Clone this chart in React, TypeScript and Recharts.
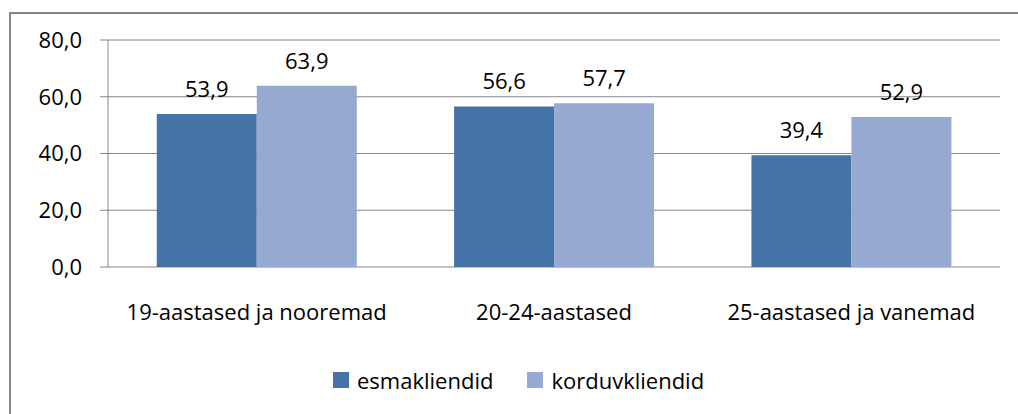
import React from 'react';
import { BarChart, Bar, XAxis, YAxis, CartesianGrid, LabelList, Legend } from 'recharts';

const categories = ['19-aastased ja nooremad', '20-24-aastased', '25-aastased ja vanemad'];
const esmakliendid = [53.9, 56.6, 39.4];
const korduvkliendid = [63.9, 57.7, 52.9];
const yTicks = [0, 20, 40, 60, 80];
const seriesNames = ['esmakliendid', 'korduvkliendid'];
const seriesColors = ['#4572A7', '#95A9D1'];

const data = categories.map((c, i) => ({ name: c, esmakliendid: esmakliendid[i], korduvkliendid: korduvkliendid[i] }));

const FONT = '"Open Sans", sans-serif';
const FS = 22;
const fmt = (v: number) => v.toFixed(1).replace('.', ',');

const LegendContent = () => (
  <div style={{ display: 'flex', alignItems: 'center', fontFamily: FONT, fontSize: FS, color: '#000' }}>
    {seriesNames.map((n, i) => (
      <div key={n} style={{ display: 'flex', alignItems: 'center', marginRight: i === 0 ? 34 : 0 }}>
        <span style={{ display: 'inline-block', width: 16, height: 16, background: seriesColors[i], marginRight: 8 }} />
        <span>{n}</span>
      </div>
    ))}
  </div>
);

export default function App() {
  return (
    <div style={{ position: 'absolute', left: 0, top: 0, width: 1018, height: 414, overflow: 'hidden', background: '#fff' }}>
      <div style={{ position: 'absolute', left: 9, top: 12, width: 1100, height: 500, border: '2px solid #868686' }} />
      <div style={{ position: 'absolute', left: 0, top: 0 }}>
        <BarChart
          width={1018}
          height={414}
          data={data}
          margin={{ top: 40, right: 18, left: 0, bottom: 87 }}
          barCategoryGap="16.4%"
          barGap={0}
        >
          <CartesianGrid vertical={false} stroke="#868686" />
          <XAxis
            xAxisId="n"
            type="number"
            domain={[0, 3]}
            ticks={[0, 1, 2, 3]}
            allowDataOverflow
            height={0}
            tick={false}
            tickSize={7}
            axisLine={{ stroke: '#868686' }}
            tickLine={{ stroke: '#868686' }}
          />
          <XAxis
            dataKey="name"
            height={60}
            tickSize={0}
            tickMargin={37}
            axisLine={false}
            tickLine={false}
            interval={0}
            tick={{ fill: '#000', fontSize: FS, fontFamily: FONT }}
          />
          <YAxis
            domain={[0, 80]}
            ticks={yTicks}
            width={108}
            tickSize={8}
            tickMargin={18}
            tickFormatter={fmt}
            axisLine={{ stroke: '#868686' }}
            tickLine={{ stroke: '#868686' }}
            tick={{ fill: '#000', fontSize: FS, fontFamily: FONT }}
          />
          <Legend
            layout="horizontal"
            verticalAlign="middle"
            align="center"
            wrapperStyle={{ top: 365, left: 333, width: 'auto' }}
            content={LegendContent}
          />
          <Bar dataKey="esmakliendid" fill={seriesColors[0]} isAnimationActive={false}>
            <LabelList dataKey="esmakliendid" position="top" offset={17} formatter={fmt} style={{ fill: '#000', fontSize: FS, fontFamily: FONT }} />
          </Bar>
          <Bar dataKey="korduvkliendid" fill={seriesColors[1]} isAnimationActive={false}>
            <LabelList dataKey="korduvkliendid" position="top" offset={17} formatter={fmt} style={{ fill: '#000', fontSize: FS, fontFamily: FONT }} />
          </Bar>
        </BarChart>
      </div>
    </div>
  );
}
